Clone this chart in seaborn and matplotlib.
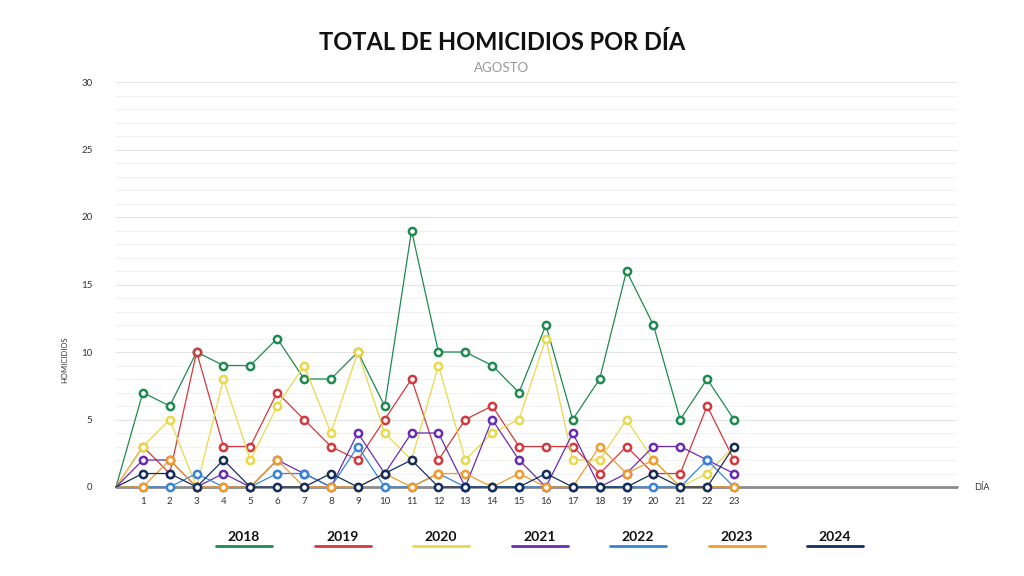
import matplotlib
matplotlib.use("Agg")
import matplotlib.pyplot as plt
from matplotlib.lines import Line2D
from matplotlib.ticker import MultipleLocator
import seaborn as sns
import pandas as pd

days = list(range(1, 24))
years = ["2018", "2019", "2020", "2021", "2022", "2023", "2024"]
v2018 = [7, 6, 10, 9, 9, 11, 8, 8, 10, 6, 19, 10, 10, 9, 7, 12, 5, 8, 16, 12, 5, 8, 5]
v2019 = [3, 1, 10, 3, 3, 7, 5, 3, 2, 5, 8, 2, 5, 6, 3, 3, 3, 1, 3, 1, 1, 6, 2]
v2020 = [3, 5, 0, 8, 2, 6, 9, 4, 10, 4, 2, 9, 2, 4, 5, 11, 2, 2, 5, 2, 0, 1, 3]
v2021 = [2, 2, 0, 1, 0, 2, 1, 0, 4, 1, 4, 4, 0, 5, 2, 0, 4, 0, 1, 3, 3, 2, 1]
v2022 = [0, 0, 1, 0, 0, 1, 1, 0, 3, 0, 0, 1, 0, 0, 0, 0, 0, 0, 0, 0, 0, 2, 0]
v2023 = [0, 2, 0, 0, 0, 2, 0, 0, 0, 1, 0, 1, 1, 0, 1, 0, 0, 3, 1, 2, 0, 0, 0]
v2024 = [1, 1, 0, 2, 0, 0, 0, 1, 0, 1, 2, 0, 0, 0, 0, 1, 0, 0, 0, 1, 0, 0, 3]
series = [v2018, v2019, v2020, v2021, v2022, v2023, v2024]
colors = ["#1f8a4f", "#d2393c", "#e9d84b", "#6a2bb3", "#3684d8", "#f29a2a", "#142e5c"]
start_day = 0
start_value = 0

rows = []
for y, vals in zip(years, series):
    rows.append({"year": y, "day": start_day, "value": start_value})
    for d, v in zip(days, vals):
        rows.append({"year": y, "day": d, "value": v})
df = pd.DataFrame(rows)

sns.set_theme(style="white")
plt.rcParams["font.family"] = ["Lato", "DejaVu Sans"]

fig = plt.figure(figsize=(10.24, 5.76), dpi=100)
ax = fig.add_axes([116 / 1024, 89 / 576, 841 / 1024, 405 / 576])

# grid
ax.yaxis.set_major_locator(MultipleLocator(5))
ax.yaxis.set_minor_locator(MultipleLocator(1))
ax.grid(which="major", axis="y", color="#e4e4e4", linewidth=0.8)
ax.grid(which="minor", axis="y", color="#f2f2f2", linewidth=0.8)
ax.set_axisbelow(True)

for i, (y, c) in enumerate(zip(years, colors)):
    sub = df[df["year"] == y]
    sns.lineplot(data=sub, x="day", y="value", ax=ax, color=c, linewidth=0.9,
                 marker="o", markersize=5.2, markerfacecolor="white",
                 markeredgecolor=c, markeredgewidth=1.8,
                 markevery=list(range(1, len(sub))), zorder=3 + i,
                 clip_on=False, legend=False)

ax.axhline(0, color="#8c8c8c", linewidth=2, zorder=2, clip_on=False)

ax.set_xlim(0, 31.3)
ax.set_ylim(0, 30)
ax.set_xticks(days)
ax.set_xticklabels([str(d) for d in days])
ax.set_yticks(range(0, 31, 5))
ax.tick_params(axis="x", length=0, pad=7, labelsize=7, labelcolor="#333333")
ax.tick_params(axis="y", which="both", length=0, pad=17, labelsize=7, labelcolor="#333333")
for s in ax.spines.values():
    s.set_visible(False)
ax.set_xlabel("")
ax.set_ylabel("")

fig.text(65 / 1024, 1 - 360 / 576, "HOMICIDIOS", rotation=90, fontsize=5.5,
         color="#333333", ha="center", va="center")
fig.text(982 / 1024, 1 - 487 / 576, "DÍA", fontsize=6.5, color="#333333",
         ha="center", va="center")

fig.text(502 / 1024, 1 - 42 / 576, "TOTAL DE HOMICIDIOS POR DÍA", fontsize=17,
         fontweight="bold", color="#111111", ha="center", va="center")
fig.text(502 / 1024, 1 - 68 / 576, "AGOSTO", fontsize=9.5, color="#999999",
         ha="center", va="center")

# legend
for i, (y, c) in enumerate(zip(years, colors)):
    cx = 244 + 98.5 * i
    fig.text(cx / 1024, 1 - 537 / 576, y, fontsize=10, fontweight="bold",
             color="#111111", ha="center", va="center")
    fig.add_artist(Line2D([(cx - 28) / 1024, (cx + 28) / 1024],
                          [1 - 546 / 576, 1 - 546 / 576],
                          color=c, linewidth=2, transform=fig.transFigure))

fig.savefig("out.png", dpi=100)
